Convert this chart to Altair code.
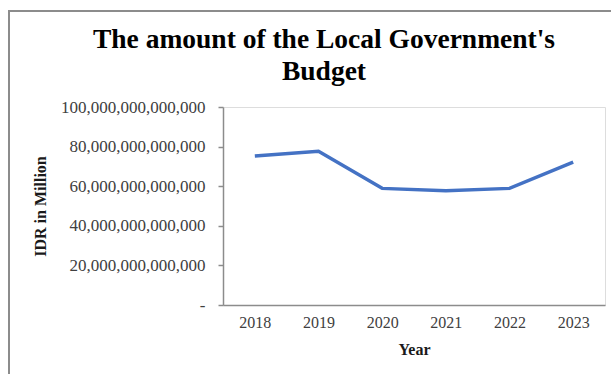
import altair as alt
import pandas as pd

years = ["2018", "2019", "2020", "2021", "2022", "2023"]
budget = [75.3e12, 77.6e12, 58.9e12, 57.7e12, 58.9e12, 72.1e12]
y_ticks = [0, 20e12, 40e12, 60e12, 80e12, 100e12]

df = pd.DataFrame({"Year": years, "Budget": budget})

FONT = "Liberation Serif"

line = alt.Chart(df).mark_line(color="#4472C4", strokeWidth=3.5).encode(
    x=alt.X(
        "Year:O",
        sort=years,
        scale=alt.Scale(type="point", padding=0.5),
        axis=alt.Axis(
            title="Year",
            labelAngle=0,
            ticks=False,
            domainColor="#8c8c8c",
            domainWidth=1.5,
            labelFont=FONT,
            labelFontSize=16,
            labelColor="#404040",
            labelPadding=9,
            titleFont=FONT,
            titleFontSize=16,
            titleFontWeight="bold",
            titleColor="#1a1a1a",
            titlePadding=11,
        ),
    ),
    y=alt.Y(
        "Budget:Q",
        scale=alt.Scale(domain=[0, 100e12], nice=False),
        axis=alt.Axis(
            title="IDR in Million",
            values=y_ticks,
            labelExpr="datum.value == 0 ? '-\u00a0\u00a0' : format(datum.value, ',.0f')",
            grid=False,
            domainColor="#8c8c8c",
            domainWidth=1.5,
            tickColor="#8c8c8c",
            tickWidth=1.5,
            tickSize=5,
            labelFont=FONT,
            labelFontSize=17,
            labelColor="#404040",
            labelPadding=13,
            titleFont=FONT,
            titleFontSize=16,
            titleFontWeight="bold",
            titleColor="#1a1a1a",
            titleX=-175,
            titleY=99,
        ),
    ),
)

border = alt.Chart(df).mark_rect(fill=None, stroke="#8c8c8c", strokeWidth=2).encode(
    x=alt.value(-214),
    x2=alt.value(400),
    y=alt.value(-96),
    y2=alt.value(300),
)

chart = (
    alt.layer(border, line)
    .properties(
        width=382,
        height=198,
        title=alt.TitleParams(
            text=["The amount of the Local Government's", "Budget"],
            font=FONT,
            fontSize=27.5,
            fontWeight="bold",
            color="#000000",
            lineHeight=32,
            anchor="middle",
            dx=-90,
            dy=79,
        ),
        padding={"left": 223, "top": 107, "right": 6, "bottom": 69},
        autosize=alt.AutoSizeParams(type="none"),
    )
    .configure_view(stroke=None)
    .configure(background="white")
)

chart.save("out.html", embed_options={"renderer": "svg", "actions": False})
